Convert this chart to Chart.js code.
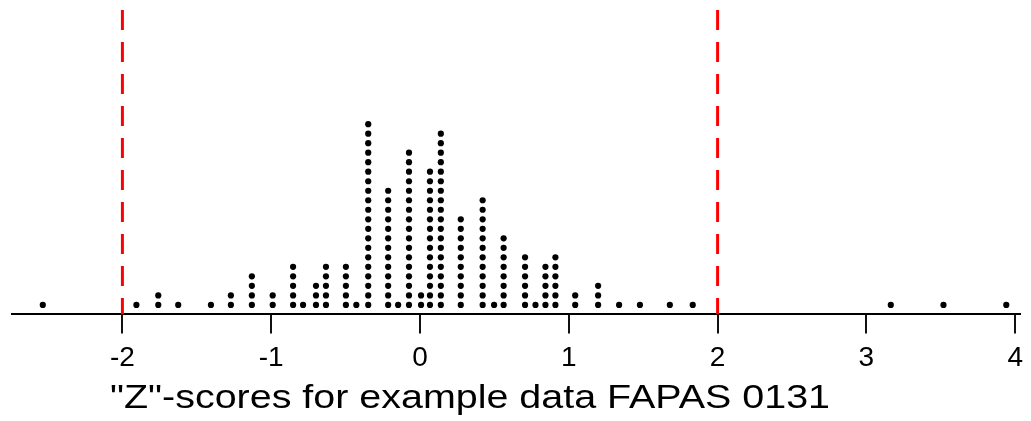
<!DOCTYPE html>
<html>
<head>
<meta charset="utf-8">
<script src="https://cdn.jsdelivr.net/npm/chart.js@4.4.0/dist/chart.umd.min.js"></script>
<style>
  html, body { margin: 0; padding: 0; background: #fff; }
  #wrap { width: 1031px; height: 421px; }
</style>
</head>
<body>
<div id="wrap"><canvas id="zplot"></canvas></div>
<script>
// z-score of each column of dots and how many labs fall in it
var zScores = [-2.535, -1.906, -1.759, -1.625, -1.405, -1.271, -1.130, -0.990, -0.853, -0.786,
               -0.699, -0.632, -0.498, -0.428, -0.348, -0.214, -0.147, -0.074, 0.007, 0.067,
               0.140, 0.274, 0.421, 0.498, 0.562, 0.706, 0.776, 0.843, 0.910, 1.043,
               1.197, 1.338, 1.478, 1.679, 1.833, 3.164, 3.518, 3.940];
var counts = [1, 1, 2, 1, 1, 2, 4, 2, 5, 1,
              3, 5, 5, 1, 20, 13, 1, 17, 2, 15,
              19, 10, 12, 1, 8, 6, 1, 5, 6, 2,
              3, 1, 1, 1, 1, 1, 1, 1];
var xTicks = [-2, -1, 0, 1, 2, 3, 4];
var limits = [-2, 2];
var caption = '"Z"-scores for example data FAPAS 0131';

// stack the dots
var dots = [];
zScores.forEach(function (z, i) {
    for (var k = 1; k <= counts[i]; k++) dots.push({ x: z, y: k });
});

var datasets = [{
    type: 'scatter',
    data: dots,
    backgroundColor: '#000',
    borderColor: '#000',
    pointRadius: 3.1,
    pointBorderWidth: 0
}];
limits.forEach(function (v) {
    datasets.push({
        type: 'line',
        data: [{ x: v, y: 32 }, { x: v, y: 0 }],
        borderColor: '#ff0000',
        borderWidth: 3,
        borderDash: [20, 12],
        pointRadius: 0,
        fill: false
    });
});

// caption under the axis (old bitmap font was wide, so stretch it a bit)
var captionPlugin = {
    id: 'caption',
    afterDraw: function (chart) {
        var c = chart.ctx;
        c.save();
        c.font = '33px "Liberation Sans", Arial, sans-serif';
        c.fillStyle = '#000';
        c.textBaseline = 'alphabetic';
        var w = c.measureText(caption).width;
        c.translate(110, 408);
        c.scale(720 / w, 1);
        c.fillText(caption, 0, 0);
        c.restore();
    }
};

var ctx = document.getElementById('zplot').getContext('2d');
var myChart = new Chart(ctx, {
    data: { datasets: datasets },
    plugins: [captionPlugin],
    options: {
        responsive: true,
        maintainAspectRatio: false,
        animation: false,
        layout: { padding: { left: 12, right: 0, top: 10, bottom: 38 } },
        plugins: { legend: { display: false }, tooltip: { enabled: false } },
        scales: {
            x: {
                type: 'linear',
                min: -2.742,
                max: 4.03,
                afterBuildTicks: function (scale) {
                    scale.ticks = xTicks.map(function (v) { return { value: v }; });
                },
                border: { display: true, color: '#000', width: 2 },
                grid: { drawOnChartArea: false, drawTicks: true, tickLength: 19, color: '#111', lineWidth: 2 },
                ticks: {
                    color: '#000',
                    padding: 8,
                    maxRotation: 0,
                    font: { family: '"Liberation Sans", Arial, sans-serif', size: 28 }
                }
            },
            y: {
                display: false,
                min: 0,
                max: 32
            }
        }
    }
});
</script>
</body>
</html>
